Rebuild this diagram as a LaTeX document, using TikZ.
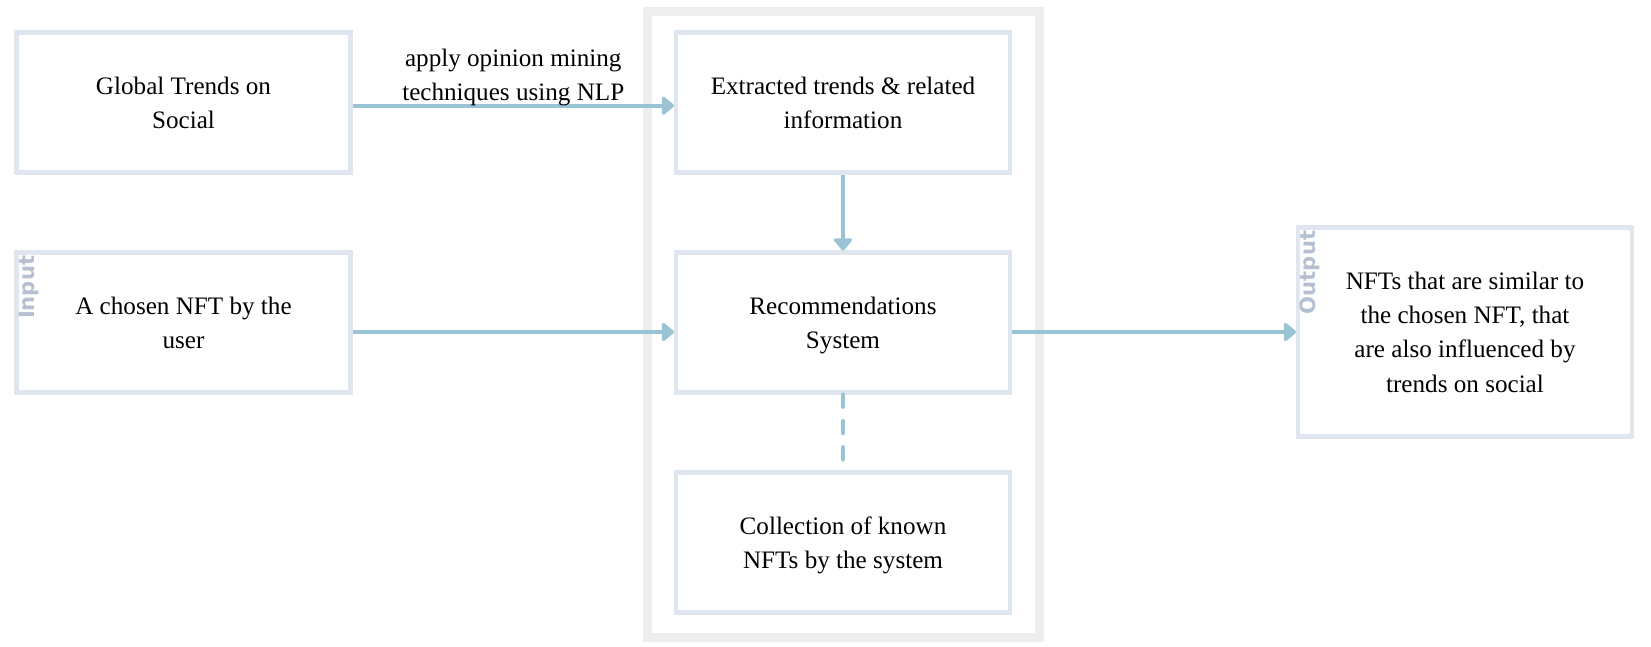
\documentclass[tikz,border=0pt]{standalone}
\usepackage{fontspec}
\setmainfont{Liberation Serif}
\newfontfamily\lanefont{DejaVu Sans}
\usepackage{xcolor}
\usepackage{tikz}
\usetikzlibrary{arrows.meta}
\definecolor{NFTBoxLine}{RGB}{224,230,240}
\definecolor{NFTArrow}{RGB}{154,195,213}
\definecolor{NFTFrame}{RGB}{238,238,238}
\definecolor{NFTLane}{RGB}{180,192,210}

\begin{document}
\begin{tikzpicture}[node distance=4.4cm,
    box/.style={draw=NFTBoxLine, line width=2.3pt, rectangle, minimum width=6.68cm, minimum height=2.8cm, align=center, font=\fontsize{14.3}{19.5}\selectfont, text depth=-6pt},
    flow/.style={draw=NFTArrow, line width=2.4pt, -{Triangle[width=12pt,length=7.5pt,round]}},
    link/.style={draw=NFTArrow, line width=2.4pt, line cap=round, dash pattern=on 7pt off 8pt},
    lane/.style={rotate=90, anchor=north east, inner sep=0pt, text=NFTLane, font=\lanefont\bfseries\fontsize{12}{14}\selectfont}]
    \useasboundingbox (-16.86,2.05) rectangle (16.16,-10.87);
    \draw[NFTFrame, line width=4.8pt] (-3.91,1.82) rectangle (3.93,-10.7);

    \node (Extracted) [box] {Extracted trends \& related\\information};
    \node (Rec) [box, below of=Extracted] {Recommendations\\System};
    \node (Collection) [box, below of=Rec] {Collection of known\\NFTs by the system};
    \node (Global) [box, left of=Extracted, xshift=-8.79cm] {Global Trends on\\Social};
    \node (Input) [box, below of=Global] {A chosen NFT by the\\user};
    \node (Output) [box, right of=Rec, xshift=8.04cm, yshift=-0.19cm, minimum height=4.18cm] {NFTs that are similar to\\the chosen NFT, that\\are also influenced by\\trends on social};
    \node (InputLane) [lane] at ([xshift=0.08cm, yshift=-0.1cm]Input.north west) {Input};
    \node (OutputLane) [lane] at ([xshift=0.08cm, yshift=-0.1cm]Output.north west) {Output};

    \draw[flow] ([yshift=-1.8pt]Global.east) -- node (MiningLabel) [above, inner sep=0pt, yshift=-1.4pt, align=center, font=\fontsize{14.3}{19.5}\selectfont] {apply opinion mining\\techniques using NLP} ([yshift=-1.8pt]Extracted.west);
    \draw[flow] (Extracted) -- (Rec);
    \draw[flow] (Input.east |- Output.west) -- (Rec.west |- Output.west);
    \draw[flow] (Rec.east |- Output.west) -- (Output.west);
    \draw[link] (Rec) -- (Collection);
\end{tikzpicture}
\end{document}
